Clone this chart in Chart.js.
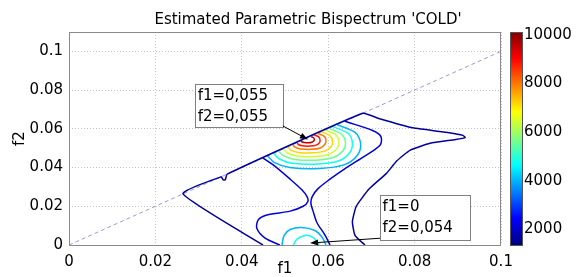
<!DOCTYPE html>
<html>
<head>
<meta charset="utf-8">
<script src="https://cdn.jsdelivr.net/npm/chart.js@4.4.0/dist/chart.umd.min.js"></script>
<style>
  html, body { margin: 0; padding: 0; background: #fff; }
</style>
</head>
<body>
<canvas id="bispec" width="580" height="277"></canvas>
<script>
// axis ticks
const xTicks = [0, 0.02, 0.04, 0.06, 0.08, 0.1];
const xTickLabels = ['0', '0.02', '0.04', '0.06', '0.08', '0.1'];
const yTicks = [0, 0.02, 0.04, 0.06, 0.08, 0.1];
const yTickLabels = ['0', '0.02', '0.04', '0.06', '0.08', '0.1'];
const cbTicks = [2000, 4000, 6000, 8000, 10000];
const cbMin = 1360, cbMax = 10120;

// contour lines, [f1, f2] pairs
const outerContour = [[0.0449, 0], [0.0264, 0.0264], [0.0352, 0.0352], [0.0357, 0.0336], [0.0362, 0.0338],
  [0.0366, 0.0366], [0.068, 0.068], [0.0715, 0.0655], [0.0796, 0.0605], [0.088, 0.058], [0.0912, 0.0566],
  [0.0917, 0.0555], [0.0895, 0.0545], [0.0836, 0.0525], [0.079, 0.049], [0.0759, 0.0435], [0.0735, 0.037],
  [0.0695, 0.029], [0.0665, 0.02], [0.0656, 0.012], [0.0662, 0.005], [0.0685, 0]];
const leftBranch = [[0.0449, 0.0449], [0.0472, 0.0415], [0.0512, 0.034], [0.0539, 0.0285], [0.0551, 0.025],
  [0.0553, 0.0225], [0.0542, 0.02], [0.0512, 0.0175], [0.0458, 0.0155], [0.0438, 0.013], [0.0435, 0.0085],
  [0.0454, 0.0035], [0.0488, 0]];
const rightBranch = [[0.0639, 0.0639], [0.0704, 0.059], [0.0722, 0.056], [0.072, 0.0515], [0.0678, 0.045],
  [0.0639, 0.0395], [0.0604, 0.034], [0.0576, 0.029], [0.0563, 0.025], [0.056, 0.0215], [0.0565, 0.0175],
  [0.0574, 0.0115], [0.0593, 0.005], [0.0604, 0]];
const peakRings = [
  [[0.046, 0.046], [0.0476, 0.0425], [0.0511, 0.04], [0.058, 0.0395], [0.0638, 0.0415], [0.0668, 0.0465], [0.0675, 0.0525], [0.0663, 0.058], [0.0621, 0.0621]],
  [[0.0474, 0.0474], [0.0487, 0.0444], [0.0517, 0.0422], [0.0576, 0.0418], [0.0625, 0.0435], [0.065, 0.0478], [0.0656, 0.0529], [0.0646, 0.0576], [0.0611, 0.0611]],
  [[0.0485, 0.0485], [0.0497, 0.046], [0.0522, 0.0442], [0.0572, 0.0438], [0.0613, 0.0453], [0.0635, 0.0489], [0.064, 0.0532], [0.0631, 0.0572], [0.0602, 0.0602]],
  [[0.0496, 0.0496], [0.0506, 0.0475], [0.0527, 0.046], [0.0568, 0.0457], [0.0603, 0.0469], [0.0621, 0.0499], [0.0625, 0.0535], [0.0618, 0.0568], [0.0593, 0.0593]],
  [[0.0507, 0.0507], [0.0514, 0.049], [0.0531, 0.0478], [0.0564, 0.0476], [0.0592, 0.0485], [0.0607, 0.0509], [0.061, 0.0538], [0.0604, 0.0564], [0.0585, 0.0585]],
  [[0.0518, 0.0518], [0.0523, 0.0505], [0.0536, 0.0496], [0.0561, 0.0494], [0.0582, 0.0501], [0.0592, 0.0519], [0.0595, 0.0541], [0.0591, 0.0561], [0.0576, 0.0576]],
  [[0.0528, 0.0528], [0.0531, 0.0519], [0.054, 0.0512], [0.0558, 0.0511], [0.0572, 0.0516], [0.058, 0.0529], [0.0581, 0.0544], [0.0578, 0.0558], [0.0568, 0.0568]],
  [[0.0537, 0.0537], [0.054, 0.0532], [0.0545, 0.0529], [0.0554, 0.0528], [0.0562, 0.0531], [0.0567, 0.0538], [0.0568, 0.0546], [0.0566, 0.0554], [0.056, 0.056]]
];
const peakLevels = [4000, 4800, 5600, 6400, 7200, 8000, 8800, 9600];
const lowRings = [
  [[0.0493, 0], [0.0498, 0.005], [0.0512, 0.008], [0.0539, 0.009], [0.0569, 0.0075], [0.0586, 0.004], [0.0595, 0]],
  [[0.0519, 0], [0.0528, 0.003], [0.0549, 0.005], [0.0567, 0.0035], [0.0579, 0]]
];
const lowLevels = [4000, 4800];
const outerLevel = 1600, branchLevel = 2100;
const diagonal = [[0, 0], [0.1, 0.1]];

// text boxes with arrows
const notes = [
  { lines: ['f1=0,055', 'f2=0,055'], box: [0.0292, 0.083, 0.0495, 0.061], from: [0.0495, 0.0615], tip: [0.0553, 0.0545] },
  { lines: ['f1=0', 'f2=0,054'], box: [0.072, 0.026, 0.0928, 0.003], from: [0.072, 0.0035], tip: [0.0558, 0.001] }
];

const FONT = 'DejaVu Sans';

function jet(t) {
  const c = v => Math.round(255 * Math.max(0, Math.min(1, v)));
  return 'rgb(' + c(1.5 - Math.abs(4 * t - 3)) + ',' + c(1.5 - Math.abs(4 * t - 2)) + ',' + c(1.5 - Math.abs(4 * t - 1)) + ')';
}
function levelColor(v) { return jet((v - cbMin) / (cbMax - cbMin)); }

function line(pts, color, extra) {
  return Object.assign({
    data: pts.map(p => ({ x: p[0], y: p[1] })),
    showLine: true, borderColor: color, borderWidth: 1.5, pointRadius: 0,
    tension: 0.3, fill: false, order: 1
  }, extra || {});
}

const datasets = [
  line(diagonal, '#9a9ad6', { borderWidth: 1, borderDash: [4, 3], tension: 0, order: 5 }),
  line(outerContour, levelColor(outerLevel), { tension: 0.15 }),
  line(leftBranch, levelColor(branchLevel)),
  line(rightBranch, levelColor(branchLevel))
];
lowRings.forEach((r, i) => datasets.push(line(r, levelColor(lowLevels[i]))));
peakRings.forEach((r, i) => datasets.push(line(r, levelColor(peakLevels[i]))));

const overlay = {
  id: 'overlay',
  afterDatasetsDraw(chart) {
    const { ctx, chartArea: a, scales } = chart;
    const x = scales.x, y = scales.y, cb = scales.cb;
    ctx.save();
    // axes box
    ctx.strokeStyle = '#8a8a8a';
    ctx.lineWidth = 1;
    ctx.strokeRect(a.left + 0.5, a.top + 0.5, a.right - a.left - 1, a.bottom - a.top);

    // colour bar
    const top = cb.getPixelForValue(cbMax), bottom = cb.getPixelForValue(cbMin);
    const g = ctx.createLinearGradient(0, bottom, 0, top);
    for (let i = 0; i <= 32; i++) g.addColorStop(i / 32, jet(i / 32));
    ctx.fillStyle = g;
    ctx.fillRect(cb.left + 9, top, 12, bottom - top + 1);
    ctx.strokeStyle = '#555';
    ctx.strokeRect(cb.left + 9.5, top + 0.5, 12, bottom - top);

    // title
    ctx.fillStyle = '#000';
    ctx.font = '15px "' + FONT + '"';
    ctx.textAlign = 'center';
    ctx.textBaseline = 'middle';
    ctx.fillText("Estimated Parametric Bispectrum 'COLD'", 308, 20);

    // annotations
    notes.forEach(n => {
      const bx = x.getPixelForValue(n.box[0]), by = y.getPixelForValue(n.box[1]);
      const bw = x.getPixelForValue(n.box[2]) - bx, bh = y.getPixelForValue(n.box[3]) - by;
      ctx.fillStyle = '#fff';
      ctx.fillRect(bx, by, bw, bh);
      ctx.strokeStyle = '#808080';
      ctx.lineWidth = 1;
      ctx.strokeRect(Math.round(bx) + 0.5, Math.round(by) + 0.5, Math.round(bw), Math.round(bh));
      ctx.fillStyle = '#000';
      ctx.textAlign = 'left';
      n.lines.forEach((t, i) => ctx.fillText(t, bx + 2.5, by + 12 + i * 21));

      const fx = x.getPixelForValue(n.from[0]), fy = y.getPixelForValue(n.from[1]);
      const tx = x.getPixelForValue(n.tip[0]), ty = y.getPixelForValue(n.tip[1]);
      const ang = Math.atan2(ty - fy, tx - fx);
      ctx.strokeStyle = '#000';
      ctx.beginPath();
      ctx.moveTo(fx, fy);
      ctx.lineTo(tx - 6 * Math.cos(ang), ty - 6 * Math.sin(ang));
      ctx.stroke();
      ctx.fillStyle = '#000';
      ctx.beginPath();
      ctx.moveTo(tx, ty);
      ctx.lineTo(tx - 8 * Math.cos(ang) + 3 * Math.sin(ang), ty - 8 * Math.sin(ang) - 3 * Math.cos(ang));
      ctx.lineTo(tx - 8 * Math.cos(ang) - 3 * Math.sin(ang), ty - 8 * Math.sin(ang) + 3 * Math.cos(ang));
      ctx.closePath();
      ctx.fill();
    });
    ctx.restore();
  }
};

const tickFont = { family: FONT, size: 15 };

new Chart(document.getElementById('bispec').getContext('2d'), {
  type: 'scatter',
  data: { datasets: datasets },
  options: {
    responsive: false,
    animation: false,
    devicePixelRatio: 1,
    layout: { padding: { top: 30, left: 0, right: 0, bottom: 0 } },
    plugins: { legend: { display: false }, tooltip: { enabled: false } },
    scales: {
      x: {
        type: 'linear', min: 0, max: 0.1,
        afterBuildTicks: s => { s.ticks = xTicks.map(v => ({ value: v })); },
        afterFit: s => { s.height = 27; },
        ticks: { color: '#000', font: tickFont, padding: 8, maxRotation: 0, autoSkip: false,
          callback: (v, i) => xTickLabels[i] },
        grid: { color: '#c4c4c4', drawTicks: false },
        border: { display: false, dash: [1, 2] },
        title: { display: true, text: 'f1', color: '#000', font: tickFont, padding: { top: 0, bottom: -6 } }
      },
      y: {
        type: 'linear', min: 0, max: 0.11,
        afterBuildTicks: s => { s.ticks = yTicks.map(v => ({ value: v })); },
        afterFit: s => { s.width = 69; },
        ticks: { color: '#000', font: tickFont, padding: 6, autoSkip: false,
          callback: (v, i) => yTickLabels[i] },
        grid: { color: '#c4c4c4', drawTicks: false },
        border: { display: false, dash: [1, 2] },
        title: { display: true, text: 'f2', color: '#000', font: tickFont, padding: { top: 11 } }
      },
      cb: {
        type: 'linear', position: 'right', display: true, min: cbMin, max: cbMax,
        afterBuildTicks: s => { s.ticks = cbTicks.map(v => ({ value: v })); },
        afterFit: s => { s.width = 79; },
        ticks: { color: '#000', font: tickFont, padding: 23, autoSkip: false,
          callback: v => String(v) },
        grid: { display: false, drawTicks: false },
        border: { display: false }
      }
    }
  },
  plugins: [overlay]
});
</script>
</body>
</html>
